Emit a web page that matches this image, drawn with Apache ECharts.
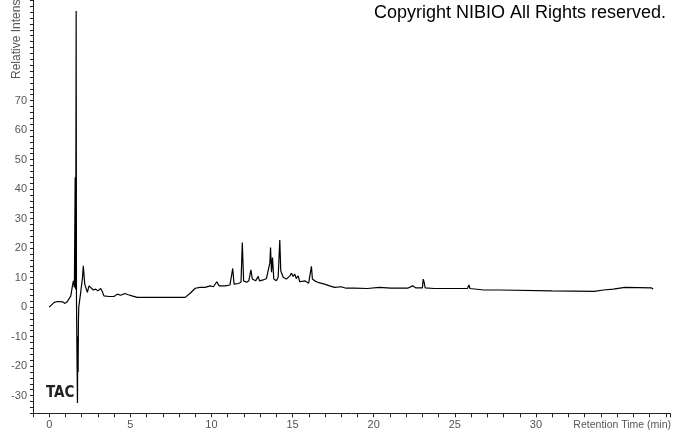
<!DOCTYPE html>
<html>
<head>
<meta charset="utf-8">
<script src="https://cdn.jsdelivr.net/npm/echarts@6/dist/echarts.min.js"></script>
<style>html,body{margin:0;padding:0;background:#fff;}#c{width:673px;height:433px;}</style>
</head>
<body>
<div id="c"></div>
<script>
// Retention time (min)
var times = [
  0.00, 0.31, 0.51, 0.82, 0.98, 1.12, 1.33, 1.43, 1.49, 1.55,
  1.60, 1.61, 1.63, 1.66, 1.68, 1.71, 1.74, 1.76, 1.78, 1.80, 1.82,
  1.94, 2.05, 2.10, 2.19, 2.35, 2.45, 2.56, 2.72, 2.86, 3.00,
  3.17, 3.27, 3.37, 3.68, 3.99, 4.20, 4.40, 4.66, 4.87, 5.10,
  5.42, 6.30, 6.34, 6.38, 8.38, 8.69, 9.00, 9.30, 9.61, 9.92,
  10.12, 10.33, 10.47, 10.84, 11.14, 11.31, 11.39, 11.66, 11.82, 11.90,
  11.98, 12.17, 12.30, 12.43, 12.52, 12.72, 12.88, 12.96, 13.19, 13.39,
  13.50, 13.60, 13.64, 13.70, 13.76, 13.84, 14.00, 14.11, 14.21, 14.27,
  14.42, 14.62, 14.83, 14.93, 15.03, 15.13, 15.23, 15.34, 15.44, 15.75,
  15.99, 16.16, 16.22, 16.36, 16.56, 16.97, 17.28, 17.59, 17.99, 18.30,
  18.80, 19.60, 20.35, 21.06, 22.09, 22.40, 22.60, 23.00, 23.05, 23.10,
  23.17, 23.72, 24.50, 24.60, 24.70, 25.77, 25.87, 25.93, 26.79, 27.75,
  27.80, 27.85, 30.98, 31.00, 33.60, 34.15, 34.77, 35.48, 37.12, 37.22
];
// Relative intensity
var intensity = [
  0.0, 1.6, 1.9, 1.8, 1.25, 1.9, 3.8, 7.2, 8.9, 6.7,
  44.0, 8.0, 6.0, 100.4, 2.0, -16.0, -32.5, -10.0, -22.0, -5.0, 0.0,
  5.0, 10.0, 14.0, 7.8, 5.0, 7.2, 6.7, 5.8, 6.1, 5.5,
  6.3, 5.3, 3.8, 3.6, 3.6, 4.4, 4.0, 4.6, 4.2, 3.8,
  3.3, 3.3, 3.6, 3.3, 3.3, 4.7, 6.4, 6.7, 6.7, 7.2,
  6.9, 8.6, 7.2, 7.2, 7.5, 13.1, 7.8, 8.0, 8.4, 21.9,
  8.9, 8.4, 8.9, 12.6, 9.5, 8.9, 10.4, 8.9, 9.2, 9.7,
  10.1, 15.1, 20.2, 11.8, 16.8, 9.5, 8.9, 10.1, 22.7, 12.3,
  10.1, 9.5, 10.6, 11.5, 10.4, 11.2, 9.7, 10.6, 8.6, 8.9,
  8.1, 13.8, 9.5, 8.9, 8.4, 7.8, 7.2, 6.7, 6.9, 6.4,
  6.4, 6.3, 6.7, 6.4, 6.4, 7.2, 6.5, 6.5, 9.5, 8.6,
  6.5, 6.3, 6.3, 5.9, 6.3, 6.3, 7.5, 6.3, 5.8, 5.8,
  6.3, 5.8, 5.5, 5.3, 5.3, 5.8, 6.1, 6.7, 6.5, 6.1
];
var xLabelValues = [0, 5, 10, 15, 20, 25, 30];
var yLabelValues = [-30, -20, -10, 0, 10, 20, 30, 40, 50, 60, 70];
var titleText = 'Copyright NIBIO All Rights reserved.';
var xName = 'Retention Time (min)';
var yName = 'Relative Intensity';
var traceName = 'TAC';

var data = times.map(function (t, i) { return [t, intensity[i]]; });
var font = "'Liberation Sans', Arial, sans-serif";
var chart = echarts.init(document.getElementById('c'), null, { renderer: 'canvas' });
chart.setOption({
  animation: false,
  backgroundColor: '#fff',
  grid: { left: 33, right: 0, top: 0, bottom: 19.7, containLabel: false },
  xAxis: {
    type: 'value', min: -1, max: 38.26, interval: 1,
    axisLine: { show: true, onZero: false, lineStyle: { color: '#222', width: 1 } },
    axisTick: { show: true, length: 4, inside: false, lineStyle: { color: '#222' } },
    splitLine: { show: false },
    axisLabel: {
      margin: 6, color: '#555', fontSize: 11, fontFamily: font,
      showMinLabel: true, showMaxLabel: true,
      formatter: function (v) { var r = Math.round(v); return xLabelValues.indexOf(r) >= 0 && Math.abs(v - r) < 1e-6 ? String(r) : ''; }
    }
  },
  yAxis: {
    type: 'value', min: -36, max: 104.1, interval: 2,
    axisLine: { show: true, onZero: false, lineStyle: { color: '#222', width: 1 } },
    axisTick: { show: true, length: 3, inside: false, lineStyle: { color: '#222' } },
    splitLine: { show: false },
    axisLabel: {
      margin: 6, color: '#555', fontSize: 11, fontFamily: font,
      formatter: function (v) { var r = Math.round(v); return yLabelValues.indexOf(r) >= 0 && Math.abs(v - r) < 1e-6 ? String(r) : ''; }
    }
  },
  series: [{
    type: 'line', data: data, showSymbol: false, symbol: 'none',
    lineStyle: { color: '#000', width: 1.2 }, silent: true
  }],
  graphic: [
    { type: 'text', right: 7, top: 4, style: { text: titleText, fill: '#000', font: '18px ' + font } },
    { type: 'text', left: 46, top: 386, style: { text: traceName, fill: '#222', font: "bold 15px 'Liberation Sans Narrow', 'DejaVu Sans Condensed', sans-serif" } },
    { type: 'text', right: 2, top: 420, style: { text: xName, fill: '#555', font: '10.5px ' + font } },
    { type: 'text', x: 23, y: 79, rotation: Math.PI / 2, style: { text: yName, fill: '#555', font: '12px ' + font, textAlign: 'left', textVerticalAlign: 'bottom' } }
  ]
});
</script>
</body>
</html>
